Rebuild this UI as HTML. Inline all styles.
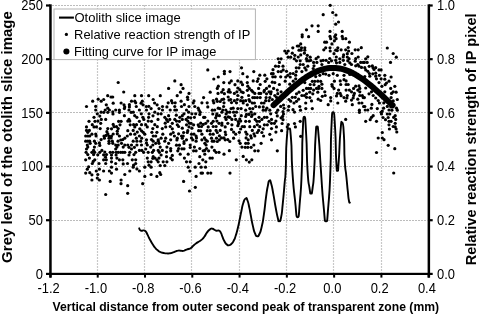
<!DOCTYPE html>
<html><head><meta charset="utf-8"><style>
html,body{margin:0;padding:0;background:#fff;width:480px;height:315px;overflow:hidden}
svg{display:block;filter:grayscale(1)}
</style></head><body>
<svg width="480" height="315" viewBox="0 0 480 315">
<rect width="480" height="315" fill="#fff"/>
<g stroke-width="1.2" stroke-dasharray="2 1"><line x1="97.50" y1="5" x2="97.50" y2="272.8" stroke="#c8c8c8"/><line x1="144.50" y1="5" x2="144.50" y2="272.8" stroke="#c8c8c8"/><line x1="191.50" y1="5" x2="191.50" y2="272.8" stroke="#c8c8c8"/><line x1="239.50" y1="5" x2="239.50" y2="272.8" stroke="#c8c8c8"/><line x1="286.50" y1="5" x2="286.50" y2="272.8" stroke="#c8c8c8"/><line x1="333.50" y1="5" x2="333.50" y2="272.8" stroke="#c8c8c8"/><line x1="381.50" y1="5" x2="381.50" y2="272.8" stroke="#c8c8c8"/><line x1="52" y1="220.50" x2="427.5" y2="220.50" stroke="#bcbcbc"/><line x1="52" y1="166.50" x2="427.5" y2="166.50" stroke="#bcbcbc"/><line x1="52" y1="112.50" x2="427.5" y2="112.50" stroke="#bcbcbc"/><line x1="52" y1="59.50" x2="427.5" y2="59.50" stroke="#bcbcbc"/><line x1="52" y1="5.50" x2="427.5" y2="5.50" stroke="#bcbcbc"/></g><g fill="#000"><circle cx="118.2" cy="82.5" r="1.6"/><circle cx="123.7" cy="92.0" r="1.6"/><circle cx="107.7" cy="95.7" r="1.6"/><circle cx="111.0" cy="97.0" r="1.6"/><circle cx="112.7" cy="97.0" r="1.6"/><circle cx="98.2" cy="99.2" r="1.6"/><circle cx="101.2" cy="101.2" r="1.6"/><circle cx="103.7" cy="99.5" r="1.6"/><circle cx="92.7" cy="101.2" r="1.6"/><circle cx="134.8" cy="95.7" r="1.6"/><circle cx="141.5" cy="95.7" r="1.6"/><circle cx="148.7" cy="95.7" r="1.6"/><circle cx="160.3" cy="95.7" r="1.6"/><circle cx="153.2" cy="99.5" r="1.6"/><circle cx="131.5" cy="101.2" r="1.6"/><circle cx="134.8" cy="101.2" r="1.6"/><circle cx="142.3" cy="101.2" r="1.6"/><circle cx="86.5" cy="106.5" r="1.6"/><circle cx="95.7" cy="106.3" r="1.6"/><circle cx="106.3" cy="104.8" r="1.6"/><circle cx="95.7" cy="110.0" r="1.6"/><circle cx="105.2" cy="110.0" r="1.6"/><circle cx="107.8" cy="108.2" r="1.6"/><circle cx="109.4" cy="110.0" r="1.6"/><circle cx="115.7" cy="110.0" r="1.6"/><circle cx="119.4" cy="110.0" r="1.6"/><circle cx="101.1" cy="112.2" r="1.6"/><circle cx="103.8" cy="112.3" r="1.6"/><circle cx="107.8" cy="112.3" r="1.6"/><circle cx="112.8" cy="111.9" r="1.6"/><circle cx="119.4" cy="112.3" r="1.6"/><circle cx="97.3" cy="113.8" r="1.6"/><circle cx="113.0" cy="114.0" r="1.6"/><circle cx="99.8" cy="116.1" r="1.6"/><circle cx="94.0" cy="117.3" r="1.6"/><circle cx="101.3" cy="119.4" r="1.6"/><circle cx="105.7" cy="119.4" r="1.6"/><circle cx="89.0" cy="121.3" r="1.6"/><circle cx="95.0" cy="121.3" r="1.6"/><circle cx="98.0" cy="121.1" r="1.6"/><circle cx="118.6" cy="121.3" r="1.6"/><circle cx="121.1" cy="121.3" r="1.6"/><circle cx="100.7" cy="123.3" r="1.6"/><circle cx="92.3" cy="124.7" r="1.6"/><circle cx="113.2" cy="124.4" r="1.6"/><circle cx="120.0" cy="124.8" r="1.6"/><circle cx="86.5" cy="126.9" r="1.6"/><circle cx="94.0" cy="126.9" r="1.6"/><circle cx="96.5" cy="126.9" r="1.6"/><circle cx="114.0" cy="126.7" r="1.6"/><circle cx="116.5" cy="126.7" r="1.6"/><circle cx="100.2" cy="128.6" r="1.6"/><circle cx="107.8" cy="128.6" r="1.6"/><circle cx="111.5" cy="128.8" r="1.6"/><circle cx="118.2" cy="128.6" r="1.6"/><circle cx="124.7" cy="106.9" r="1.6"/><circle cx="129.4" cy="104.7" r="1.6"/><circle cx="129.4" cy="106.9" r="1.6"/><circle cx="136.3" cy="106.5" r="1.6"/><circle cx="143.0" cy="104.8" r="1.6"/><circle cx="146.3" cy="106.5" r="1.6"/><circle cx="148.8" cy="106.3" r="1.6"/><circle cx="162.5" cy="106.5" r="1.6"/><circle cx="129.0" cy="110.0" r="1.6"/><circle cx="139.4" cy="110.0" r="1.6"/><circle cx="146.5" cy="110.0" r="1.6"/><circle cx="151.1" cy="108.6" r="1.6"/><circle cx="159.0" cy="108.6" r="1.6"/><circle cx="162.5" cy="110.0" r="1.6"/><circle cx="131.1" cy="112.3" r="1.6"/><circle cx="133.3" cy="112.2" r="1.6"/><circle cx="141.3" cy="113.8" r="1.6"/><circle cx="149.0" cy="113.8" r="1.6"/><circle cx="154.8" cy="112.2" r="1.6"/><circle cx="158.0" cy="113.8" r="1.6"/><circle cx="161.1" cy="113.8" r="1.6"/><circle cx="124.4" cy="115.7" r="1.6"/><circle cx="134.7" cy="115.7" r="1.6"/><circle cx="136.9" cy="117.3" r="1.6"/><circle cx="142.8" cy="117.3" r="1.6"/><circle cx="148.6" cy="117.3" r="1.6"/><circle cx="153.0" cy="115.8" r="1.6"/><circle cx="129.0" cy="119.4" r="1.6"/><circle cx="127.8" cy="121.1" r="1.6"/><circle cx="129.8" cy="121.1" r="1.6"/><circle cx="139.4" cy="121.3" r="1.6"/><circle cx="143.8" cy="119.4" r="1.6"/><circle cx="148.2" cy="121.1" r="1.6"/><circle cx="151.5" cy="121.3" r="1.6"/><circle cx="158.0" cy="119.4" r="1.6"/><circle cx="130.2" cy="124.8" r="1.6"/><circle cx="133.6" cy="124.7" r="1.6"/><circle cx="136.5" cy="124.7" r="1.6"/><circle cx="141.5" cy="124.7" r="1.6"/><circle cx="145.7" cy="124.7" r="1.6"/><circle cx="154.8" cy="124.7" r="1.6"/><circle cx="134.8" cy="126.9" r="1.6"/><circle cx="147.3" cy="126.9" r="1.6"/><circle cx="157.3" cy="126.7" r="1.6"/><circle cx="139.8" cy="128.8" r="1.6"/><circle cx="152.8" cy="128.6" r="1.6"/><circle cx="162.3" cy="128.6" r="1.6"/><circle cx="86.5" cy="130.4" r="1.6"/><circle cx="89.4" cy="130.4" r="1.6"/><circle cx="106.9" cy="131.7" r="1.6"/><circle cx="117.3" cy="131.2" r="1.6"/><circle cx="87.8" cy="132.3" r="1.6"/><circle cx="91.9" cy="134.2" r="1.6"/><circle cx="95.7" cy="134.0" r="1.6"/><circle cx="107.8" cy="133.8" r="1.6"/><circle cx="113.2" cy="134.0" r="1.6"/><circle cx="117.3" cy="133.8" r="1.6"/><circle cx="85.7" cy="136.0" r="1.6"/><circle cx="87.8" cy="136.0" r="1.6"/><circle cx="89.7" cy="136.0" r="1.6"/><circle cx="96.1" cy="136.0" r="1.6"/><circle cx="104.0" cy="136.0" r="1.6"/><circle cx="106.1" cy="135.4" r="1.6"/><circle cx="109.0" cy="136.0" r="1.6"/><circle cx="111.5" cy="136.0" r="1.6"/><circle cx="119.4" cy="136.0" r="1.6"/><circle cx="101.1" cy="139.6" r="1.6"/><circle cx="104.4" cy="138.2" r="1.6"/><circle cx="109.0" cy="138.2" r="1.6"/><circle cx="111.1" cy="137.9" r="1.6"/><circle cx="85.7" cy="141.2" r="1.6"/><circle cx="87.8" cy="141.2" r="1.6"/><circle cx="89.7" cy="141.2" r="1.6"/><circle cx="94.4" cy="141.2" r="1.6"/><circle cx="109.0" cy="141.2" r="1.6"/><circle cx="112.3" cy="141.2" r="1.6"/><circle cx="118.0" cy="141.2" r="1.6"/><circle cx="120.7" cy="140.0" r="1.6"/><circle cx="122.8" cy="139.6" r="1.6"/><circle cx="90.2" cy="143.3" r="1.6"/><circle cx="95.7" cy="143.3" r="1.6"/><circle cx="99.4" cy="142.9" r="1.6"/><circle cx="109.0" cy="143.3" r="1.6"/><circle cx="112.8" cy="143.3" r="1.6"/><circle cx="121.5" cy="143.3" r="1.6"/><circle cx="87.3" cy="145.0" r="1.6"/><circle cx="99.8" cy="145.4" r="1.6"/><circle cx="115.7" cy="145.0" r="1.6"/><circle cx="118.2" cy="145.0" r="1.6"/><circle cx="87.8" cy="147.1" r="1.6"/><circle cx="94.4" cy="147.1" r="1.6"/><circle cx="116.9" cy="147.1" r="1.6"/><circle cx="123.2" cy="147.1" r="1.6"/><circle cx="86.5" cy="149.0" r="1.6"/><circle cx="93.6" cy="150.4" r="1.6"/><circle cx="101.9" cy="150.4" r="1.6"/><circle cx="115.7" cy="149.0" r="1.6"/><circle cx="86.1" cy="152.3" r="1.6"/><circle cx="91.9" cy="152.3" r="1.6"/><circle cx="94.7" cy="152.3" r="1.6"/><circle cx="99.8" cy="152.3" r="1.6"/><circle cx="104.8" cy="152.1" r="1.6"/><circle cx="110.2" cy="152.3" r="1.6"/><circle cx="112.8" cy="152.3" r="1.6"/><circle cx="116.1" cy="152.3" r="1.6"/><circle cx="118.2" cy="152.3" r="1.6"/><circle cx="120.7" cy="152.3" r="1.6"/><circle cx="122.8" cy="152.3" r="1.6"/><circle cx="87.8" cy="154.6" r="1.6"/><circle cx="93.6" cy="154.6" r="1.6"/><circle cx="97.8" cy="154.8" r="1.6"/><circle cx="103.6" cy="154.8" r="1.6"/><circle cx="106.5" cy="154.6" r="1.6"/><circle cx="111.5" cy="155.0" r="1.6"/><circle cx="116.1" cy="155.0" r="1.6"/><circle cx="127.8" cy="130.7" r="1.6"/><circle cx="133.2" cy="130.4" r="1.6"/><circle cx="137.3" cy="132.1" r="1.6"/><circle cx="141.5" cy="130.8" r="1.6"/><circle cx="143.2" cy="132.3" r="1.6"/><circle cx="151.9" cy="132.3" r="1.6"/><circle cx="156.9" cy="132.3" r="1.6"/><circle cx="127.3" cy="136.0" r="1.6"/><circle cx="130.5" cy="134.2" r="1.6"/><circle cx="134.8" cy="134.2" r="1.6"/><circle cx="139.4" cy="136.0" r="1.6"/><circle cx="144.8" cy="134.2" r="1.6"/><circle cx="153.2" cy="136.0" r="1.6"/><circle cx="155.7" cy="136.0" r="1.6"/><circle cx="162.8" cy="134.2" r="1.6"/><circle cx="124.8" cy="138.2" r="1.6"/><circle cx="136.3" cy="138.2" r="1.6"/><circle cx="141.7" cy="138.2" r="1.6"/><circle cx="146.5" cy="139.8" r="1.6"/><circle cx="151.5" cy="139.6" r="1.6"/><circle cx="158.2" cy="139.8" r="1.6"/><circle cx="161.1" cy="138.2" r="1.6"/><circle cx="133.2" cy="141.2" r="1.6"/><circle cx="136.9" cy="141.2" r="1.6"/><circle cx="140.7" cy="141.2" r="1.6"/><circle cx="146.5" cy="142.9" r="1.6"/><circle cx="153.2" cy="141.2" r="1.6"/><circle cx="158.2" cy="141.2" r="1.6"/><circle cx="124.8" cy="145.0" r="1.6"/><circle cx="127.8" cy="145.0" r="1.6"/><circle cx="131.5" cy="145.0" r="1.6"/><circle cx="136.9" cy="145.0" r="1.6"/><circle cx="141.5" cy="145.0" r="1.6"/><circle cx="147.3" cy="145.0" r="1.6"/><circle cx="152.8" cy="145.0" r="1.6"/><circle cx="155.7" cy="143.3" r="1.6"/><circle cx="159.0" cy="143.3" r="1.6"/><circle cx="129.0" cy="147.3" r="1.6"/><circle cx="134.4" cy="147.3" r="1.6"/><circle cx="150.7" cy="147.1" r="1.6"/><circle cx="160.2" cy="147.1" r="1.6"/><circle cx="131.5" cy="149.0" r="1.6"/><circle cx="139.4" cy="150.4" r="1.6"/><circle cx="141.9" cy="150.4" r="1.6"/><circle cx="145.7" cy="149.0" r="1.6"/><circle cx="153.6" cy="150.4" r="1.6"/><circle cx="158.2" cy="150.4" r="1.6"/><circle cx="162.3" cy="150.4" r="1.6"/><circle cx="124.8" cy="152.3" r="1.6"/><circle cx="129.8" cy="152.3" r="1.6"/><circle cx="135.7" cy="152.3" r="1.6"/><circle cx="143.6" cy="152.3" r="1.6"/><circle cx="148.2" cy="152.3" r="1.6"/><circle cx="152.3" cy="152.3" r="1.6"/><circle cx="159.4" cy="152.3" r="1.6"/><circle cx="129.0" cy="155.0" r="1.6"/><circle cx="134.0" cy="154.6" r="1.6"/><circle cx="161.1" cy="155.0" r="1.6"/><circle cx="85.7" cy="159.8" r="1.6"/><circle cx="89.4" cy="158.1" r="1.6"/><circle cx="94.8" cy="159.8" r="1.6"/><circle cx="93.2" cy="161.4" r="1.6"/><circle cx="92.3" cy="163.5" r="1.6"/><circle cx="99.0" cy="163.5" r="1.6"/><circle cx="103.6" cy="159.8" r="1.6"/><circle cx="106.3" cy="159.8" r="1.6"/><circle cx="105.5" cy="157.2" r="1.6"/><circle cx="105.7" cy="163.5" r="1.6"/><circle cx="111.5" cy="158.1" r="1.6"/><circle cx="111.5" cy="161.8" r="1.6"/><circle cx="115.7" cy="163.5" r="1.6"/><circle cx="116.9" cy="158.1" r="1.6"/><circle cx="119.4" cy="159.8" r="1.6"/><circle cx="122.8" cy="159.8" r="1.6"/><circle cx="123.2" cy="163.9" r="1.6"/><circle cx="88.6" cy="166.8" r="1.6"/><circle cx="87.3" cy="169.2" r="1.6"/><circle cx="99.4" cy="169.2" r="1.6"/><circle cx="96.3" cy="171.0" r="1.6"/><circle cx="103.6" cy="171.0" r="1.6"/><circle cx="109.4" cy="171.0" r="1.6"/><circle cx="111.5" cy="167.2" r="1.6"/><circle cx="116.5" cy="169.2" r="1.6"/><circle cx="85.7" cy="173.1" r="1.6"/><circle cx="89.8" cy="172.7" r="1.6"/><circle cx="91.9" cy="174.8" r="1.6"/><circle cx="97.8" cy="174.5" r="1.6"/><circle cx="111.5" cy="173.1" r="1.6"/><circle cx="97.3" cy="178.1" r="1.6"/><circle cx="99.4" cy="180.0" r="1.6"/><circle cx="91.9" cy="180.0" r="1.6"/><circle cx="121.1" cy="180.0" r="1.6"/><circle cx="110.2" cy="181.4" r="1.6"/><circle cx="153.2" cy="156.7" r="1.6"/><circle cx="132.3" cy="159.8" r="1.6"/><circle cx="135.7" cy="159.8" r="1.6"/><circle cx="127.5" cy="163.5" r="1.6"/><circle cx="135.7" cy="163.5" r="1.6"/><circle cx="133.6" cy="165.2" r="1.6"/><circle cx="133.2" cy="167.2" r="1.6"/><circle cx="136.9" cy="168.9" r="1.6"/><circle cx="139.4" cy="171.0" r="1.6"/><circle cx="129.8" cy="171.0" r="1.6"/><circle cx="124.8" cy="174.5" r="1.6"/><circle cx="147.3" cy="158.1" r="1.6"/><circle cx="152.8" cy="158.3" r="1.6"/><circle cx="155.0" cy="158.1" r="1.6"/><circle cx="159.0" cy="158.1" r="1.6"/><circle cx="156.9" cy="159.8" r="1.6"/><circle cx="158.2" cy="161.8" r="1.6"/><circle cx="163.2" cy="161.8" r="1.6"/><circle cx="148.2" cy="161.8" r="1.6"/><circle cx="151.1" cy="161.8" r="1.6"/><circle cx="149.0" cy="165.2" r="1.6"/><circle cx="151.1" cy="167.2" r="1.6"/><circle cx="160.2" cy="165.6" r="1.6"/><circle cx="144.8" cy="167.2" r="1.6"/><circle cx="151.1" cy="174.5" r="1.6"/><circle cx="159.8" cy="172.7" r="1.6"/><circle cx="160.7" cy="174.5" r="1.6"/><circle cx="156.9" cy="176.4" r="1.6"/><circle cx="144.8" cy="176.4" r="1.6"/><circle cx="121.0" cy="183.7" r="1.6"/><circle cx="127.7" cy="185.7" r="1.6"/><circle cx="142.7" cy="183.7" r="1.6"/><circle cx="105.7" cy="194.5" r="1.6"/><circle cx="127.7" cy="193.3" r="1.6"/><circle cx="174.8" cy="80.9" r="1.6"/><circle cx="181.1" cy="84.7" r="1.6"/><circle cx="168.6" cy="88.4" r="1.6"/><circle cx="183.0" cy="88.4" r="1.6"/><circle cx="180.5" cy="92.2" r="1.6"/><circle cx="189.0" cy="93.4" r="1.6"/><circle cx="177.2" cy="95.7" r="1.6"/><circle cx="187.5" cy="97.2" r="1.6"/><circle cx="187.8" cy="99.5" r="1.6"/><circle cx="171.5" cy="100.7" r="1.6"/><circle cx="181.1" cy="101.2" r="1.6"/><circle cx="194.0" cy="100.9" r="1.6"/><circle cx="203.6" cy="97.6" r="1.6"/><circle cx="168.2" cy="102.8" r="1.6"/><circle cx="172.3" cy="102.8" r="1.6"/><circle cx="175.2" cy="102.8" r="1.6"/><circle cx="193.2" cy="103.0" r="1.6"/><circle cx="201.9" cy="102.8" r="1.6"/><circle cx="207.8" cy="69.9" r="1.6"/><circle cx="224.4" cy="71.3" r="1.6"/><circle cx="224.4" cy="73.7" r="1.6"/><circle cx="230.0" cy="71.6" r="1.6"/><circle cx="241.5" cy="67.8" r="1.6"/><circle cx="242.8" cy="73.7" r="1.6"/><circle cx="218.3" cy="77.0" r="1.6"/><circle cx="213.8" cy="79.0" r="1.6"/><circle cx="223.8" cy="82.6" r="1.6"/><circle cx="229.4" cy="82.8" r="1.6"/><circle cx="231.3" cy="80.9" r="1.6"/><circle cx="237.8" cy="80.9" r="1.6"/><circle cx="241.1" cy="82.2" r="1.6"/><circle cx="242.5" cy="84.7" r="1.6"/><circle cx="235.0" cy="84.7" r="1.6"/><circle cx="218.3" cy="86.2" r="1.6"/><circle cx="217.3" cy="88.4" r="1.6"/><circle cx="210.2" cy="92.2" r="1.6"/><circle cx="223.2" cy="89.7" r="1.6"/><circle cx="221.7" cy="92.2" r="1.6"/><circle cx="218.0" cy="93.4" r="1.6"/><circle cx="224.4" cy="93.7" r="1.6"/><circle cx="229.0" cy="89.7" r="1.6"/><circle cx="228.2" cy="91.8" r="1.6"/><circle cx="230.2" cy="92.2" r="1.6"/><circle cx="237.8" cy="88.0" r="1.6"/><circle cx="239.8" cy="89.7" r="1.6"/><circle cx="236.9" cy="91.8" r="1.6"/><circle cx="234.4" cy="93.4" r="1.6"/><circle cx="241.5" cy="91.8" r="1.6"/><circle cx="243.2" cy="92.6" r="1.6"/><circle cx="237.8" cy="95.5" r="1.6"/><circle cx="228.2" cy="97.0" r="1.6"/><circle cx="223.6" cy="99.2" r="1.6"/><circle cx="221.9" cy="99.5" r="1.6"/><circle cx="216.5" cy="99.2" r="1.6"/><circle cx="213.2" cy="100.7" r="1.6"/><circle cx="217.3" cy="101.3" r="1.6"/><circle cx="220.2" cy="101.5" r="1.6"/><circle cx="230.7" cy="99.5" r="1.6"/><circle cx="229.0" cy="100.1" r="1.6"/><circle cx="234.4" cy="100.7" r="1.6"/><circle cx="237.3" cy="99.5" r="1.6"/><circle cx="241.9" cy="97.3" r="1.6"/><circle cx="240.7" cy="100.7" r="1.6"/><circle cx="243.2" cy="100.9" r="1.6"/><circle cx="207.2" cy="102.8" r="1.6"/><circle cx="213.8" cy="102.8" r="1.6"/><circle cx="224.0" cy="102.8" r="1.6"/><circle cx="231.5" cy="102.6" r="1.6"/><circle cx="236.5" cy="102.8" r="1.6"/><circle cx="243.2" cy="103.0" r="1.6"/><circle cx="184.4" cy="104.7" r="1.6"/><circle cx="166.9" cy="106.9" r="1.6"/><circle cx="174.8" cy="106.5" r="1.6"/><circle cx="181.5" cy="106.5" r="1.6"/><circle cx="189.0" cy="106.5" r="1.6"/><circle cx="194.8" cy="106.5" r="1.6"/><circle cx="170.2" cy="110.0" r="1.6"/><circle cx="174.8" cy="110.0" r="1.6"/><circle cx="176.5" cy="110.0" r="1.6"/><circle cx="186.5" cy="110.0" r="1.6"/><circle cx="188.6" cy="112.2" r="1.6"/><circle cx="198.2" cy="108.2" r="1.6"/><circle cx="199.0" cy="110.2" r="1.6"/><circle cx="200.2" cy="112.2" r="1.6"/><circle cx="168.6" cy="115.7" r="1.6"/><circle cx="176.3" cy="115.2" r="1.6"/><circle cx="184.0" cy="113.8" r="1.6"/><circle cx="191.9" cy="113.8" r="1.6"/><circle cx="195.7" cy="113.8" r="1.6"/><circle cx="199.8" cy="114.4" r="1.6"/><circle cx="164.8" cy="117.3" r="1.6"/><circle cx="182.3" cy="115.7" r="1.6"/><circle cx="179.8" cy="117.3" r="1.6"/><circle cx="188.2" cy="117.3" r="1.6"/><circle cx="190.7" cy="117.8" r="1.6"/><circle cx="194.4" cy="117.3" r="1.6"/><circle cx="203.6" cy="117.3" r="1.6"/><circle cx="166.5" cy="119.4" r="1.6"/><circle cx="169.8" cy="119.4" r="1.6"/><circle cx="174.8" cy="119.4" r="1.6"/><circle cx="176.5" cy="121.1" r="1.6"/><circle cx="179.4" cy="121.3" r="1.6"/><circle cx="182.3" cy="119.4" r="1.6"/><circle cx="186.1" cy="119.4" r="1.6"/><circle cx="187.8" cy="121.1" r="1.6"/><circle cx="165.2" cy="123.2" r="1.6"/><circle cx="167.8" cy="121.5" r="1.6"/><circle cx="172.3" cy="123.3" r="1.6"/><circle cx="189.4" cy="123.2" r="1.6"/><circle cx="191.1" cy="123.3" r="1.6"/><circle cx="193.6" cy="124.8" r="1.6"/><circle cx="186.5" cy="124.8" r="1.6"/><circle cx="177.3" cy="124.8" r="1.6"/><circle cx="200.7" cy="123.2" r="1.6"/><circle cx="198.2" cy="124.8" r="1.6"/><circle cx="203.2" cy="124.4" r="1.6"/><circle cx="165.7" cy="126.9" r="1.6"/><circle cx="170.2" cy="126.5" r="1.6"/><circle cx="172.3" cy="128.8" r="1.6"/><circle cx="178.6" cy="126.5" r="1.6"/><circle cx="182.3" cy="128.2" r="1.6"/><circle cx="189.0" cy="126.9" r="1.6"/><circle cx="191.9" cy="128.2" r="1.6"/><circle cx="199.0" cy="126.5" r="1.6"/><circle cx="201.5" cy="126.5" r="1.6"/><circle cx="207.8" cy="106.9" r="1.6"/><circle cx="218.2" cy="108.2" r="1.6"/><circle cx="219.8" cy="108.6" r="1.6"/><circle cx="223.6" cy="106.5" r="1.6"/><circle cx="231.1" cy="108.6" r="1.6"/><circle cx="233.2" cy="108.2" r="1.6"/><circle cx="237.8" cy="108.6" r="1.6"/><circle cx="241.1" cy="108.6" r="1.6"/><circle cx="212.3" cy="110.2" r="1.6"/><circle cx="214.7" cy="110.0" r="1.6"/><circle cx="222.8" cy="110.0" r="1.6"/><circle cx="225.8" cy="110.0" r="1.6"/><circle cx="221.9" cy="112.2" r="1.6"/><circle cx="227.3" cy="112.2" r="1.6"/><circle cx="229.8" cy="112.2" r="1.6"/><circle cx="233.6" cy="112.2" r="1.6"/><circle cx="236.5" cy="112.2" r="1.6"/><circle cx="212.8" cy="114.0" r="1.6"/><circle cx="216.9" cy="113.8" r="1.6"/><circle cx="226.1" cy="114.0" r="1.6"/><circle cx="204.8" cy="117.3" r="1.6"/><circle cx="216.5" cy="115.7" r="1.6"/><circle cx="219.4" cy="115.7" r="1.6"/><circle cx="234.8" cy="115.7" r="1.6"/><circle cx="241.3" cy="115.7" r="1.6"/><circle cx="215.7" cy="117.8" r="1.6"/><circle cx="225.2" cy="117.3" r="1.6"/><circle cx="228.2" cy="116.9" r="1.6"/><circle cx="229.8" cy="117.3" r="1.6"/><circle cx="226.1" cy="119.4" r="1.6"/><circle cx="231.9" cy="119.4" r="1.6"/><circle cx="235.7" cy="119.4" r="1.6"/><circle cx="239.8" cy="119.0" r="1.6"/><circle cx="207.8" cy="121.1" r="1.6"/><circle cx="213.2" cy="121.3" r="1.6"/><circle cx="216.9" cy="121.1" r="1.6"/><circle cx="238.2" cy="121.5" r="1.6"/><circle cx="240.7" cy="121.1" r="1.6"/><circle cx="211.5" cy="123.3" r="1.6"/><circle cx="219.0" cy="123.3" r="1.6"/><circle cx="221.9" cy="123.0" r="1.6"/><circle cx="227.8" cy="123.3" r="1.6"/><circle cx="231.9" cy="124.8" r="1.6"/><circle cx="238.6" cy="123.6" r="1.6"/><circle cx="205.7" cy="123.3" r="1.6"/><circle cx="221.9" cy="125.2" r="1.6"/><circle cx="213.2" cy="126.5" r="1.6"/><circle cx="216.1" cy="126.5" r="1.6"/><circle cx="225.2" cy="126.9" r="1.6"/><circle cx="237.8" cy="125.7" r="1.6"/><circle cx="242.3" cy="126.5" r="1.6"/><circle cx="208.2" cy="126.9" r="1.6"/><circle cx="231.5" cy="129.4" r="1.6"/><circle cx="240.7" cy="129.0" r="1.6"/><circle cx="187.8" cy="130.7" r="1.6"/><circle cx="198.6" cy="130.7" r="1.6"/><circle cx="200.7" cy="130.8" r="1.6"/><circle cx="173.2" cy="132.5" r="1.6"/><circle cx="170.7" cy="134.2" r="1.6"/><circle cx="178.6" cy="133.8" r="1.6"/><circle cx="183.6" cy="132.5" r="1.6"/><circle cx="187.3" cy="132.5" r="1.6"/><circle cx="174.4" cy="136.0" r="1.6"/><circle cx="181.5" cy="136.0" r="1.6"/><circle cx="183.2" cy="136.0" r="1.6"/><circle cx="177.3" cy="138.2" r="1.6"/><circle cx="182.3" cy="138.2" r="1.6"/><circle cx="165.7" cy="138.2" r="1.6"/><circle cx="191.5" cy="134.2" r="1.6"/><circle cx="194.0" cy="134.2" r="1.6"/><circle cx="191.5" cy="137.9" r="1.6"/><circle cx="196.1" cy="136.0" r="1.6"/><circle cx="196.5" cy="137.9" r="1.6"/><circle cx="201.9" cy="134.2" r="1.6"/><circle cx="170.7" cy="139.8" r="1.6"/><circle cx="176.9" cy="140.0" r="1.6"/><circle cx="186.5" cy="139.8" r="1.6"/><circle cx="192.8" cy="139.8" r="1.6"/><circle cx="196.1" cy="141.2" r="1.6"/><circle cx="164.8" cy="141.2" r="1.6"/><circle cx="184.0" cy="141.7" r="1.6"/><circle cx="168.6" cy="143.3" r="1.6"/><circle cx="184.0" cy="143.5" r="1.6"/><circle cx="201.9" cy="139.8" r="1.6"/><circle cx="176.5" cy="145.2" r="1.6"/><circle cx="179.4" cy="145.2" r="1.6"/><circle cx="190.2" cy="145.0" r="1.6"/><circle cx="166.9" cy="147.1" r="1.6"/><circle cx="170.7" cy="148.5" r="1.6"/><circle cx="178.6" cy="148.5" r="1.6"/><circle cx="181.9" cy="148.8" r="1.6"/><circle cx="184.0" cy="148.8" r="1.6"/><circle cx="190.2" cy="147.5" r="1.6"/><circle cx="194.4" cy="147.1" r="1.6"/><circle cx="199.8" cy="148.5" r="1.6"/><circle cx="166.5" cy="152.1" r="1.6"/><circle cx="170.7" cy="150.8" r="1.6"/><circle cx="177.8" cy="150.8" r="1.6"/><circle cx="193.6" cy="150.8" r="1.6"/><circle cx="196.1" cy="150.8" r="1.6"/><circle cx="203.2" cy="150.8" r="1.6"/><circle cx="180.2" cy="154.2" r="1.6"/><circle cx="188.2" cy="154.2" r="1.6"/><circle cx="172.3" cy="155.4" r="1.6"/><circle cx="207.3" cy="130.7" r="1.6"/><circle cx="210.2" cy="130.7" r="1.6"/><circle cx="216.1" cy="130.4" r="1.6"/><circle cx="220.2" cy="130.4" r="1.6"/><circle cx="217.3" cy="132.5" r="1.6"/><circle cx="225.2" cy="132.1" r="1.6"/><circle cx="225.7" cy="134.6" r="1.6"/><circle cx="233.6" cy="132.1" r="1.6"/><circle cx="235.7" cy="134.2" r="1.6"/><circle cx="239.4" cy="132.3" r="1.6"/><circle cx="210.2" cy="134.2" r="1.6"/><circle cx="213.2" cy="134.2" r="1.6"/><circle cx="219.4" cy="135.8" r="1.6"/><circle cx="211.5" cy="138.2" r="1.6"/><circle cx="216.5" cy="138.2" r="1.6"/><circle cx="221.5" cy="137.9" r="1.6"/><circle cx="224.0" cy="137.9" r="1.6"/><circle cx="204.4" cy="137.9" r="1.6"/><circle cx="205.7" cy="139.8" r="1.6"/><circle cx="207.3" cy="141.2" r="1.6"/><circle cx="212.3" cy="141.2" r="1.6"/><circle cx="214.0" cy="141.2" r="1.6"/><circle cx="217.3" cy="141.5" r="1.6"/><circle cx="219.4" cy="139.8" r="1.6"/><circle cx="225.2" cy="139.8" r="1.6"/><circle cx="227.8" cy="139.6" r="1.6"/><circle cx="229.8" cy="141.5" r="1.6"/><circle cx="233.6" cy="138.2" r="1.6"/><circle cx="239.0" cy="140.8" r="1.6"/><circle cx="240.2" cy="143.3" r="1.6"/><circle cx="204.8" cy="143.3" r="1.6"/><circle cx="206.1" cy="145.0" r="1.6"/><circle cx="211.9" cy="147.1" r="1.6"/><circle cx="206.5" cy="148.5" r="1.6"/><circle cx="204.8" cy="150.4" r="1.6"/><circle cx="208.6" cy="150.8" r="1.6"/><circle cx="214.4" cy="150.4" r="1.6"/><circle cx="216.1" cy="152.3" r="1.6"/><circle cx="219.0" cy="152.3" r="1.6"/><circle cx="229.4" cy="150.7" r="1.6"/><circle cx="241.9" cy="147.1" r="1.6"/><circle cx="224.0" cy="154.2" r="1.6"/><circle cx="204.8" cy="154.2" r="1.6"/><circle cx="166.5" cy="156.7" r="1.6"/><circle cx="199.8" cy="156.7" r="1.6"/><circle cx="170.7" cy="158.1" r="1.6"/><circle cx="172.3" cy="159.8" r="1.6"/><circle cx="166.9" cy="161.8" r="1.6"/><circle cx="164.8" cy="165.6" r="1.6"/><circle cx="184.4" cy="158.1" r="1.6"/><circle cx="186.5" cy="161.8" r="1.6"/><circle cx="190.2" cy="161.8" r="1.6"/><circle cx="188.2" cy="167.2" r="1.6"/><circle cx="189.8" cy="171.0" r="1.6"/><circle cx="195.2" cy="167.2" r="1.6"/><circle cx="199.0" cy="163.5" r="1.6"/><circle cx="201.1" cy="167.2" r="1.6"/><circle cx="202.8" cy="159.8" r="1.6"/><circle cx="201.1" cy="173.1" r="1.6"/><circle cx="202.5" cy="173.1" r="1.6"/><circle cx="196.1" cy="176.4" r="1.6"/><circle cx="183.6" cy="181.4" r="1.6"/><circle cx="210.0" cy="158.1" r="1.6"/><circle cx="212.3" cy="158.1" r="1.6"/><circle cx="205.8" cy="161.8" r="1.6"/><circle cx="205.5" cy="167.2" r="1.6"/><circle cx="236.3" cy="159.8" r="1.6"/><circle cx="207.8" cy="173.1" r="1.6"/><circle cx="210.8" cy="173.1" r="1.6"/><circle cx="230.0" cy="173.1" r="1.6"/><circle cx="243.2" cy="156.4" r="1.6"/><circle cx="195.3" cy="187.3" r="1.6"/><circle cx="189.5" cy="191.0" r="1.6"/><circle cx="323.2" cy="14.7" r="1.6"/><circle cx="312.0" cy="25.8" r="1.6"/><circle cx="318.2" cy="25.8" r="1.6"/><circle cx="306.5" cy="29.8" r="1.6"/><circle cx="318.2" cy="31.4" r="1.6"/><circle cx="302.2" cy="34.8" r="1.6"/><circle cx="302.2" cy="36.8" r="1.6"/><circle cx="308.6" cy="36.7" r="1.6"/><circle cx="300.7" cy="43.9" r="1.6"/><circle cx="297.3" cy="46.0" r="1.6"/><circle cx="298.8" cy="46.0" r="1.6"/><circle cx="292.8" cy="47.8" r="1.6"/><circle cx="301.5" cy="47.8" r="1.6"/><circle cx="304.8" cy="47.8" r="1.6"/><circle cx="299.0" cy="50.2" r="1.6"/><circle cx="301.1" cy="50.2" r="1.6"/><circle cx="304.8" cy="50.2" r="1.6"/><circle cx="284.8" cy="51.0" r="1.6"/><circle cx="288.2" cy="51.0" r="1.6"/><circle cx="278.2" cy="58.8" r="1.6"/><circle cx="281.1" cy="58.8" r="1.6"/><circle cx="279.4" cy="62.4" r="1.6"/><circle cx="275.5" cy="66.2" r="1.6"/><circle cx="278.6" cy="66.3" r="1.6"/><circle cx="283.0" cy="66.2" r="1.6"/><circle cx="273.0" cy="69.7" r="1.6"/><circle cx="253.8" cy="71.6" r="1.6"/><circle cx="278.2" cy="71.6" r="1.6"/><circle cx="281.1" cy="71.6" r="1.6"/><circle cx="283.2" cy="69.9" r="1.6"/><circle cx="271.5" cy="73.7" r="1.6"/><circle cx="273.2" cy="73.7" r="1.6"/><circle cx="259.8" cy="75.2" r="1.6"/><circle cx="264.8" cy="75.2" r="1.6"/><circle cx="247.3" cy="76.8" r="1.6"/><circle cx="272.8" cy="76.8" r="1.6"/><circle cx="275.2" cy="76.8" r="1.6"/><circle cx="280.7" cy="76.8" r="1.6"/><circle cx="286.5" cy="53.2" r="1.6"/><circle cx="292.3" cy="53.2" r="1.6"/><circle cx="304.4" cy="53.2" r="1.6"/><circle cx="294.8" cy="55.3" r="1.6"/><circle cx="300.7" cy="54.9" r="1.6"/><circle cx="307.3" cy="55.3" r="1.6"/><circle cx="288.2" cy="57.2" r="1.6"/><circle cx="290.7" cy="57.2" r="1.6"/><circle cx="298.2" cy="57.0" r="1.6"/><circle cx="310.2" cy="57.2" r="1.6"/><circle cx="318.2" cy="57.0" r="1.6"/><circle cx="316.1" cy="58.7" r="1.6"/><circle cx="294.4" cy="58.8" r="1.6"/><circle cx="306.5" cy="58.7" r="1.6"/><circle cx="300.2" cy="60.8" r="1.6"/><circle cx="296.5" cy="60.8" r="1.6"/><circle cx="306.9" cy="60.8" r="1.6"/><circle cx="309.0" cy="60.8" r="1.6"/><circle cx="310.7" cy="60.3" r="1.6"/><circle cx="313.6" cy="62.4" r="1.6"/><circle cx="316.9" cy="62.4" r="1.6"/><circle cx="321.1" cy="60.8" r="1.6"/><circle cx="323.2" cy="60.3" r="1.6"/><circle cx="303.2" cy="64.5" r="1.6"/><circle cx="300.2" cy="64.5" r="1.6"/><circle cx="307.8" cy="66.2" r="1.6"/><circle cx="314.0" cy="65.8" r="1.6"/><circle cx="313.2" cy="68.5" r="1.6"/><circle cx="321.9" cy="64.5" r="1.6"/><circle cx="296.3" cy="67.8" r="1.6"/><circle cx="299.0" cy="67.8" r="1.6"/><circle cx="304.8" cy="67.8" r="1.6"/><circle cx="306.1" cy="69.9" r="1.6"/><circle cx="301.9" cy="71.6" r="1.6"/><circle cx="296.3" cy="71.6" r="1.6"/><circle cx="286.5" cy="71.3" r="1.6"/><circle cx="290.2" cy="73.5" r="1.6"/><circle cx="293.2" cy="73.5" r="1.6"/><circle cx="287.8" cy="75.3" r="1.6"/><circle cx="295.7" cy="75.2" r="1.6"/><circle cx="290.2" cy="77.0" r="1.6"/><circle cx="285.7" cy="77.0" r="1.6"/><circle cx="319.8" cy="75.3" r="1.6"/><circle cx="315.7" cy="76.6" r="1.6"/><circle cx="323.2" cy="73.7" r="1.6"/><circle cx="258.2" cy="78.8" r="1.6"/><circle cx="266.9" cy="78.8" r="1.6"/><circle cx="253.2" cy="80.9" r="1.6"/><circle cx="257.3" cy="81.3" r="1.6"/><circle cx="265.2" cy="81.3" r="1.6"/><circle cx="247.3" cy="82.6" r="1.6"/><circle cx="260.2" cy="84.5" r="1.6"/><circle cx="272.3" cy="82.2" r="1.6"/><circle cx="274.8" cy="82.6" r="1.6"/><circle cx="279.4" cy="84.5" r="1.6"/><circle cx="247.8" cy="86.2" r="1.6"/><circle cx="269.4" cy="86.2" r="1.6"/><circle cx="249.4" cy="88.4" r="1.6"/><circle cx="258.6" cy="88.4" r="1.6"/><circle cx="266.5" cy="88.4" r="1.6"/><circle cx="273.6" cy="88.4" r="1.6"/><circle cx="247.3" cy="90.3" r="1.6"/><circle cx="251.5" cy="90.3" r="1.6"/><circle cx="264.4" cy="90.3" r="1.6"/><circle cx="277.3" cy="90.1" r="1.6"/><circle cx="252.8" cy="91.8" r="1.6"/><circle cx="254.8" cy="93.4" r="1.6"/><circle cx="259.0" cy="93.4" r="1.6"/><circle cx="260.7" cy="93.4" r="1.6"/><circle cx="264.0" cy="91.8" r="1.6"/><circle cx="269.0" cy="91.8" r="1.6"/><circle cx="271.1" cy="91.8" r="1.6"/><circle cx="266.5" cy="93.8" r="1.6"/><circle cx="270.7" cy="93.8" r="1.6"/><circle cx="277.8" cy="93.7" r="1.6"/><circle cx="281.1" cy="91.8" r="1.6"/><circle cx="248.6" cy="95.5" r="1.6"/><circle cx="274.8" cy="95.5" r="1.6"/><circle cx="252.8" cy="97.6" r="1.6"/><circle cx="254.8" cy="97.6" r="1.6"/><circle cx="257.3" cy="97.6" r="1.6"/><circle cx="260.2" cy="97.6" r="1.6"/><circle cx="266.1" cy="97.6" r="1.6"/><circle cx="269.8" cy="97.6" r="1.6"/><circle cx="276.5" cy="97.3" r="1.6"/><circle cx="245.7" cy="100.7" r="1.6"/><circle cx="249.0" cy="99.5" r="1.6"/><circle cx="249.8" cy="101.3" r="1.6"/><circle cx="265.7" cy="100.7" r="1.6"/><circle cx="269.0" cy="100.7" r="1.6"/><circle cx="272.3" cy="99.5" r="1.6"/><circle cx="252.3" cy="103.0" r="1.6"/><circle cx="254.4" cy="103.0" r="1.6"/><circle cx="261.5" cy="103.0" r="1.6"/><circle cx="264.0" cy="103.0" r="1.6"/><circle cx="285.2" cy="81.2" r="1.6"/><circle cx="293.2" cy="81.2" r="1.6"/><circle cx="289.8" cy="84.2" r="1.6"/><circle cx="295.7" cy="78.8" r="1.6"/><circle cx="304.8" cy="82.6" r="1.6"/><circle cx="310.2" cy="84.5" r="1.6"/><circle cx="314.0" cy="84.7" r="1.6"/><circle cx="312.3" cy="81.3" r="1.6"/><circle cx="314.8" cy="81.3" r="1.6"/><circle cx="317.8" cy="81.2" r="1.6"/><circle cx="320.7" cy="81.3" r="1.6"/><circle cx="321.9" cy="84.2" r="1.6"/><circle cx="319.0" cy="86.3" r="1.6"/><circle cx="316.5" cy="88.4" r="1.6"/><circle cx="303.2" cy="90.3" r="1.6"/><circle cx="306.5" cy="88.4" r="1.6"/><circle cx="308.6" cy="88.4" r="1.6"/><circle cx="310.7" cy="88.4" r="1.6"/><circle cx="313.6" cy="90.1" r="1.6"/><circle cx="318.6" cy="88.4" r="1.6"/><circle cx="321.9" cy="88.4" r="1.6"/><circle cx="299.0" cy="92.2" r="1.6"/><circle cx="296.5" cy="93.8" r="1.6"/><circle cx="306.5" cy="93.8" r="1.6"/><circle cx="309.8" cy="92.2" r="1.6"/><circle cx="312.8" cy="93.8" r="1.6"/><circle cx="317.8" cy="92.2" r="1.6"/><circle cx="301.9" cy="95.5" r="1.6"/><circle cx="304.4" cy="95.5" r="1.6"/><circle cx="292.3" cy="97.3" r="1.6"/><circle cx="295.2" cy="97.3" r="1.6"/><circle cx="306.5" cy="97.3" r="1.6"/><circle cx="309.8" cy="97.6" r="1.6"/><circle cx="298.6" cy="99.2" r="1.6"/><circle cx="289.0" cy="99.5" r="1.6"/><circle cx="290.7" cy="101.2" r="1.6"/><circle cx="296.5" cy="101.3" r="1.6"/><circle cx="311.5" cy="100.9" r="1.6"/><circle cx="318.2" cy="99.2" r="1.6"/><circle cx="320.7" cy="100.5" r="1.6"/><circle cx="322.3" cy="96.3" r="1.6"/><circle cx="294.0" cy="103.0" r="1.6"/><circle cx="305.7" cy="103.0" r="1.6"/><circle cx="247.3" cy="104.8" r="1.6"/><circle cx="255.7" cy="106.5" r="1.6"/><circle cx="259.4" cy="106.9" r="1.6"/><circle cx="263.2" cy="106.9" r="1.6"/><circle cx="266.9" cy="108.2" r="1.6"/><circle cx="249.8" cy="108.6" r="1.6"/><circle cx="252.8" cy="108.6" r="1.6"/><circle cx="245.7" cy="110.2" r="1.6"/><circle cx="263.2" cy="110.2" r="1.6"/><circle cx="265.7" cy="110.2" r="1.6"/><circle cx="269.8" cy="110.2" r="1.6"/><circle cx="251.1" cy="112.2" r="1.6"/><circle cx="270.7" cy="113.8" r="1.6"/><circle cx="246.5" cy="114.4" r="1.6"/><circle cx="249.0" cy="114.4" r="1.6"/><circle cx="252.3" cy="114.8" r="1.6"/><circle cx="254.8" cy="113.8" r="1.6"/><circle cx="245.7" cy="116.5" r="1.6"/><circle cx="251.5" cy="116.5" r="1.6"/><circle cx="259.0" cy="117.3" r="1.6"/><circle cx="264.4" cy="117.3" r="1.6"/><circle cx="266.9" cy="117.3" r="1.6"/><circle cx="261.9" cy="119.4" r="1.6"/><circle cx="255.2" cy="119.4" r="1.6"/><circle cx="271.5" cy="119.4" r="1.6"/><circle cx="245.7" cy="121.3" r="1.6"/><circle cx="249.4" cy="121.3" r="1.6"/><circle cx="256.9" cy="121.3" r="1.6"/><circle cx="259.4" cy="121.3" r="1.6"/><circle cx="269.0" cy="121.3" r="1.6"/><circle cx="271.5" cy="123.3" r="1.6"/><circle cx="274.4" cy="123.3" r="1.6"/><circle cx="257.3" cy="124.8" r="1.6"/><circle cx="264.4" cy="124.8" r="1.6"/><circle cx="267.3" cy="124.8" r="1.6"/><circle cx="244.4" cy="126.7" r="1.6"/><circle cx="249.8" cy="126.7" r="1.6"/><circle cx="254.4" cy="126.7" r="1.6"/><circle cx="259.8" cy="126.7" r="1.6"/><circle cx="263.2" cy="128.8" r="1.6"/><circle cx="271.5" cy="128.6" r="1.6"/><circle cx="299.8" cy="106.5" r="1.6"/><circle cx="300.5" cy="110.2" r="1.6"/><circle cx="305.8" cy="108.6" r="1.6"/><circle cx="312.3" cy="108.6" r="1.6"/><circle cx="300.2" cy="121.3" r="1.6"/><circle cx="252.3" cy="130.4" r="1.6"/><circle cx="258.6" cy="130.4" r="1.6"/><circle cx="245.7" cy="132.1" r="1.6"/><circle cx="246.9" cy="134.2" r="1.6"/><circle cx="254.0" cy="133.8" r="1.6"/><circle cx="257.3" cy="132.5" r="1.6"/><circle cx="261.9" cy="132.5" r="1.6"/><circle cx="250.7" cy="135.8" r="1.6"/><circle cx="254.8" cy="136.0" r="1.6"/><circle cx="263.6" cy="136.0" r="1.6"/><circle cx="269.8" cy="134.3" r="1.6"/><circle cx="246.1" cy="137.9" r="1.6"/><circle cx="248.2" cy="139.8" r="1.6"/><circle cx="251.3" cy="137.9" r="1.6"/><circle cx="271.5" cy="139.8" r="1.6"/><circle cx="245.7" cy="143.3" r="1.6"/><circle cx="248.2" cy="143.3" r="1.6"/><circle cx="261.1" cy="143.3" r="1.6"/><circle cx="253.8" cy="145.0" r="1.6"/><circle cx="245.2" cy="147.3" r="1.6"/><circle cx="247.8" cy="147.3" r="1.6"/><circle cx="251.1" cy="147.3" r="1.6"/><circle cx="254.8" cy="150.8" r="1.6"/><circle cx="258.2" cy="150.8" r="1.6"/><circle cx="277.3" cy="150.8" r="1.6"/><circle cx="300.7" cy="136.3" r="1.6"/><circle cx="246.4" cy="159.8" r="1.6"/><circle cx="249.3" cy="162.1" r="1.6"/><circle cx="251.8" cy="159.8" r="1.6"/><circle cx="330.2" cy="5.3" r="1.6"/><circle cx="332.7" cy="12.5" r="1.6"/><circle cx="336.0" cy="15.0" r="1.6"/><circle cx="338.5" cy="22.0" r="1.6"/><circle cx="335.7" cy="24.2" r="1.6"/><circle cx="387.3" cy="48.0" r="1.6"/><circle cx="330.0" cy="31.4" r="1.6"/><circle cx="342.2" cy="31.4" r="1.6"/><circle cx="335.7" cy="34.8" r="1.6"/><circle cx="330.0" cy="36.4" r="1.6"/><circle cx="330.7" cy="38.7" r="1.6"/><circle cx="334.8" cy="36.7" r="1.6"/><circle cx="336.1" cy="38.7" r="1.6"/><circle cx="342.2" cy="36.4" r="1.6"/><circle cx="342.8" cy="38.7" r="1.6"/><circle cx="345.8" cy="38.7" r="1.6"/><circle cx="334.4" cy="40.8" r="1.6"/><circle cx="326.5" cy="42.2" r="1.6"/><circle cx="324.7" cy="42.2" r="1.6"/><circle cx="331.9" cy="43.9" r="1.6"/><circle cx="349.4" cy="42.2" r="1.6"/><circle cx="325.7" cy="47.8" r="1.6"/><circle cx="330.0" cy="47.8" r="1.6"/><circle cx="337.8" cy="47.8" r="1.6"/><circle cx="348.2" cy="47.5" r="1.6"/><circle cx="361.3" cy="47.7" r="1.6"/><circle cx="335.7" cy="50.2" r="1.6"/><circle cx="337.3" cy="50.6" r="1.6"/><circle cx="341.1" cy="49.8" r="1.6"/><circle cx="345.7" cy="49.8" r="1.6"/><circle cx="348.6" cy="51.0" r="1.6"/><circle cx="355.2" cy="49.8" r="1.6"/><circle cx="358.2" cy="49.8" r="1.6"/><circle cx="330.2" cy="51.0" r="1.6"/><circle cx="393.2" cy="53.5" r="1.6"/><circle cx="396.3" cy="57.2" r="1.6"/><circle cx="390.5" cy="62.4" r="1.6"/><circle cx="367.8" cy="56.8" r="1.6"/><circle cx="365.7" cy="58.8" r="1.6"/><circle cx="364.4" cy="62.4" r="1.6"/><circle cx="367.2" cy="62.4" r="1.6"/><circle cx="369.2" cy="66.3" r="1.6"/><circle cx="372.3" cy="65.8" r="1.6"/><circle cx="373.0" cy="67.7" r="1.6"/><circle cx="375.7" cy="67.7" r="1.6"/><circle cx="374.0" cy="69.5" r="1.6"/><circle cx="379.0" cy="69.9" r="1.6"/><circle cx="381.1" cy="69.9" r="1.6"/><circle cx="364.8" cy="67.7" r="1.6"/><circle cx="365.7" cy="69.9" r="1.6"/><circle cx="367.8" cy="71.3" r="1.6"/><circle cx="369.4" cy="73.5" r="1.6"/><circle cx="372.8" cy="73.8" r="1.6"/><circle cx="375.7" cy="73.2" r="1.6"/><circle cx="379.4" cy="75.3" r="1.6"/><circle cx="384.8" cy="75.3" r="1.6"/><circle cx="391.1" cy="77.0" r="1.6"/><circle cx="364.8" cy="76.6" r="1.6"/><circle cx="369.8" cy="76.2" r="1.6"/><circle cx="375.7" cy="76.2" r="1.6"/><circle cx="334.0" cy="53.7" r="1.6"/><circle cx="347.3" cy="53.7" r="1.6"/><circle cx="351.9" cy="53.5" r="1.6"/><circle cx="343.6" cy="54.9" r="1.6"/><circle cx="336.3" cy="57.0" r="1.6"/><circle cx="329.8" cy="58.5" r="1.6"/><circle cx="326.1" cy="60.3" r="1.6"/><circle cx="331.5" cy="60.8" r="1.6"/><circle cx="328.6" cy="62.4" r="1.6"/><circle cx="335.7" cy="60.3" r="1.6"/><circle cx="339.8" cy="58.8" r="1.6"/><circle cx="343.2" cy="57.0" r="1.6"/><circle cx="343.3" cy="60.3" r="1.6"/><circle cx="347.3" cy="57.0" r="1.6"/><circle cx="349.0" cy="58.7" r="1.6"/><circle cx="347.8" cy="60.8" r="1.6"/><circle cx="355.7" cy="58.7" r="1.6"/><circle cx="358.2" cy="57.0" r="1.6"/><circle cx="355.2" cy="61.2" r="1.6"/><circle cx="360.7" cy="62.4" r="1.6"/><circle cx="363.2" cy="62.4" r="1.6"/><circle cx="349.8" cy="62.8" r="1.6"/><circle cx="351.5" cy="64.5" r="1.6"/><circle cx="344.8" cy="64.5" r="1.6"/><circle cx="339.8" cy="62.4" r="1.6"/><circle cx="336.5" cy="62.8" r="1.6"/><circle cx="357.8" cy="64.5" r="1.6"/><circle cx="355.7" cy="65.8" r="1.6"/><circle cx="359.0" cy="66.2" r="1.6"/><circle cx="361.5" cy="67.4" r="1.6"/><circle cx="325.7" cy="74.1" r="1.6"/><circle cx="329.0" cy="75.3" r="1.6"/><circle cx="333.2" cy="73.7" r="1.6"/><circle cx="337.3" cy="75.3" r="1.6"/><circle cx="344.0" cy="75.3" r="1.6"/><circle cx="349.8" cy="74.5" r="1.6"/><circle cx="334.4" cy="81.2" r="1.6"/><circle cx="340.2" cy="80.9" r="1.6"/><circle cx="344.0" cy="79.7" r="1.6"/><circle cx="346.1" cy="80.9" r="1.6"/><circle cx="340.7" cy="84.5" r="1.6"/><circle cx="346.1" cy="84.5" r="1.6"/><circle cx="348.2" cy="84.5" r="1.6"/><circle cx="331.9" cy="84.5" r="1.6"/><circle cx="332.3" cy="86.3" r="1.6"/><circle cx="334.0" cy="88.4" r="1.6"/><circle cx="338.6" cy="90.1" r="1.6"/><circle cx="346.1" cy="90.1" r="1.6"/><circle cx="349.4" cy="90.1" r="1.6"/><circle cx="324.8" cy="91.8" r="1.6"/><circle cx="337.3" cy="93.4" r="1.6"/><circle cx="340.2" cy="93.4" r="1.6"/><circle cx="351.5" cy="91.8" r="1.6"/><circle cx="353.6" cy="88.4" r="1.6"/><circle cx="355.7" cy="86.2" r="1.6"/><circle cx="359.0" cy="85.9" r="1.6"/><circle cx="359.8" cy="88.4" r="1.6"/><circle cx="357.8" cy="90.1" r="1.6"/><circle cx="354.4" cy="93.4" r="1.6"/><circle cx="359.8" cy="91.8" r="1.6"/><circle cx="325.2" cy="95.5" r="1.6"/><circle cx="336.5" cy="95.9" r="1.6"/><circle cx="341.1" cy="95.7" r="1.6"/><circle cx="347.3" cy="95.5" r="1.6"/><circle cx="353.6" cy="95.5" r="1.6"/><circle cx="359.8" cy="95.5" r="1.6"/><circle cx="362.3" cy="95.5" r="1.6"/><circle cx="330.7" cy="97.6" r="1.6"/><circle cx="344.0" cy="97.6" r="1.6"/><circle cx="346.9" cy="98.0" r="1.6"/><circle cx="353.2" cy="98.0" r="1.6"/><circle cx="357.8" cy="99.2" r="1.6"/><circle cx="330.7" cy="100.9" r="1.6"/><circle cx="345.7" cy="101.2" r="1.6"/><circle cx="351.5" cy="100.1" r="1.6"/><circle cx="363.2" cy="97.6" r="1.6"/><circle cx="337.8" cy="103.0" r="1.6"/><circle cx="359.0" cy="103.0" r="1.6"/><circle cx="361.9" cy="103.0" r="1.6"/><circle cx="376.5" cy="78.8" r="1.6"/><circle cx="381.1" cy="78.8" r="1.6"/><circle cx="384.8" cy="79.2" r="1.6"/><circle cx="389.0" cy="81.2" r="1.6"/><circle cx="386.5" cy="83.0" r="1.6"/><circle cx="379.0" cy="82.6" r="1.6"/><circle cx="381.9" cy="86.3" r="1.6"/><circle cx="385.2" cy="84.7" r="1.6"/><circle cx="390.7" cy="88.4" r="1.6"/><circle cx="394.8" cy="86.3" r="1.6"/><circle cx="384.8" cy="91.8" r="1.6"/><circle cx="391.5" cy="93.4" r="1.6"/><circle cx="393.2" cy="91.8" r="1.6"/><circle cx="396.1" cy="92.2" r="1.6"/><circle cx="391.1" cy="97.6" r="1.6"/><circle cx="397.3" cy="99.5" r="1.6"/><circle cx="393.2" cy="100.9" r="1.6"/><circle cx="364.4" cy="97.6" r="1.6"/><circle cx="369.0" cy="93.8" r="1.6"/><circle cx="371.5" cy="91.8" r="1.6"/><circle cx="365.7" cy="88.0" r="1.6"/><circle cx="373.2" cy="95.5" r="1.6"/><circle cx="375.7" cy="98.0" r="1.6"/><circle cx="378.2" cy="100.5" r="1.6"/><circle cx="379.4" cy="103.0" r="1.6"/><circle cx="328.2" cy="104.7" r="1.6"/><circle cx="352.3" cy="104.7" r="1.6"/><circle cx="359.4" cy="110.2" r="1.6"/><circle cx="359.4" cy="112.3" r="1.6"/><circle cx="345.7" cy="119.4" r="1.6"/><circle cx="363.6" cy="106.5" r="1.6"/><circle cx="364.8" cy="106.5" r="1.6"/><circle cx="365.2" cy="110.0" r="1.6"/><circle cx="367.8" cy="110.0" r="1.6"/><circle cx="371.3" cy="108.2" r="1.6"/><circle cx="371.9" cy="104.4" r="1.6"/><circle cx="377.3" cy="108.6" r="1.6"/><circle cx="383.6" cy="108.2" r="1.6"/><circle cx="382.3" cy="111.1" r="1.6"/><circle cx="381.1" cy="112.3" r="1.6"/><circle cx="381.5" cy="114.0" r="1.6"/><circle cx="387.3" cy="114.0" r="1.6"/><circle cx="389.8" cy="114.0" r="1.6"/><circle cx="389.0" cy="110.0" r="1.6"/><circle cx="391.9" cy="110.2" r="1.6"/><circle cx="397.3" cy="110.2" r="1.6"/><circle cx="396.5" cy="108.2" r="1.6"/><circle cx="373.2" cy="115.7" r="1.6"/><circle cx="371.5" cy="117.3" r="1.6"/><circle cx="370.2" cy="119.7" r="1.6"/><circle cx="365.7" cy="121.3" r="1.6"/><circle cx="376.5" cy="121.3" r="1.6"/><circle cx="383.0" cy="117.5" r="1.6"/><circle cx="385.5" cy="119.7" r="1.6"/><circle cx="388.2" cy="117.5" r="1.6"/><circle cx="395.2" cy="115.7" r="1.6"/><circle cx="393.6" cy="117.3" r="1.6"/><circle cx="395.7" cy="119.4" r="1.6"/><circle cx="389.0" cy="121.3" r="1.6"/><circle cx="391.1" cy="121.3" r="1.6"/><circle cx="395.2" cy="123.3" r="1.6"/><circle cx="389.0" cy="124.8" r="1.6"/><circle cx="393.2" cy="126.5" r="1.6"/><circle cx="395.2" cy="126.9" r="1.6"/><circle cx="389.4" cy="129.0" r="1.6"/><circle cx="396.1" cy="129.0" r="1.6"/><circle cx="382.3" cy="132.5" r="1.6"/><circle cx="378.2" cy="138.0" r="1.6"/><circle cx="382.3" cy="138.0" r="1.6"/><circle cx="384.0" cy="139.7" r="1.6"/><circle cx="388.2" cy="145.3" r="1.6"/><circle cx="394.8" cy="148.7" r="1.6"/><circle cx="376.5" cy="152.5" r="1.6"/><circle cx="393.7" cy="173.0" r="1.6"/><circle cx="396.8" cy="132.0" r="1.6"/><circle cx="113.2" cy="103.2" r="1.6"/><circle cx="121.1" cy="103.0" r="1.6"/><circle cx="124.0" cy="104.8" r="1.6"/><circle cx="124.4" cy="108.6" r="1.6"/><circle cx="135.7" cy="102.8" r="1.6"/><circle cx="141.1" cy="103.2" r="1.6"/><circle cx="154.6" cy="103.0" r="1.6"/><circle cx="157.1" cy="104.8" r="1.6"/><circle cx="383.8" cy="102.9" r="1.6"/><circle cx="387.3" cy="106.4" r="1.6"/><circle cx="390.8" cy="106.8" r="1.6"/><circle cx="323.8" cy="49.8" r="1.6"/><circle cx="280.7" cy="106.4" r="1.6"/><circle cx="283.5" cy="105.0" r="1.6"/><circle cx="284.0" cy="108.3" r="1.6"/><circle cx="288.8" cy="106.4" r="1.6"/><circle cx="288.3" cy="110.2" r="1.6"/><circle cx="293.0" cy="109.7" r="1.6"/><circle cx="294.5" cy="112.1" r="1.6"/><circle cx="277.8" cy="110.2" r="1.6"/><circle cx="276.4" cy="112.6" r="1.6"/><circle cx="283.0" cy="111.6" r="1.6"/><circle cx="283.5" cy="114.0" r="1.6"/><circle cx="277.3" cy="115.9" r="1.6"/><circle cx="282.6" cy="116.4" r="1.6"/><circle cx="281.1" cy="117.8" r="1.6"/><circle cx="283.0" cy="119.7" r="1.6"/><circle cx="275.9" cy="121.1" r="1.6"/><circle cx="282.1" cy="123.5" r="1.6"/><circle cx="288.3" cy="124.5" r="1.6"/><circle cx="294.5" cy="123.5" r="1.6"/><circle cx="276.4" cy="126.9" r="1.6"/><circle cx="287.3" cy="126.9" r="1.6"/><circle cx="295.4" cy="126.9" r="1.6"/><circle cx="281.6" cy="130.7" r="1.6"/><circle cx="275.9" cy="132.1" r="1.6"/></g><path d="M139.20,228.30 C139.50,228.93 139.30,229.40 140.10,230.20 C140.90,231.00 140.53,230.63 141.60,230.70 C142.67,230.77 142.20,230.37 143.30,230.40 C144.40,230.43 143.93,230.23 144.90,230.80 C145.87,231.37 145.33,230.83 146.20,232.10 C147.07,233.37 146.57,232.70 147.50,234.60 C148.43,236.50 147.87,235.57 149.00,237.80 C150.13,240.03 149.63,239.10 150.90,241.30 C152.17,243.50 151.33,242.17 152.80,244.40 C154.27,246.63 153.60,245.97 155.30,248.00 C157.00,250.03 156.20,249.17 157.90,250.50 C159.60,251.83 158.50,251.17 160.40,252.00 C162.30,252.83 161.47,252.53 163.60,253.00 C165.73,253.47 164.70,253.30 166.80,253.40 C168.90,253.50 167.80,253.63 169.90,253.30 C172.00,252.97 171.17,253.03 173.10,252.40 C175.03,251.77 174.00,252.00 175.70,251.40 C177.40,250.80 176.53,250.83 178.20,250.60 C179.87,250.37 179.00,250.60 180.70,250.70 C182.40,250.80 181.60,251.17 183.30,250.90 C185.00,250.63 184.10,250.53 185.80,249.90 C187.50,249.27 186.70,249.63 188.40,249.00 C190.10,248.37 189.10,249.27 190.90,248.00 C192.70,246.73 191.57,247.07 193.80,245.20 C196.03,243.33 195.07,244.17 197.60,242.40 C200.13,240.63 199.17,241.80 201.40,239.90 C203.63,238.00 202.40,239.23 204.30,236.70 C206.20,234.17 205.20,234.73 207.10,232.30 C209.00,229.87 208.20,230.60 210.00,229.40 C211.80,228.20 210.90,228.50 212.50,228.70 C214.10,228.90 213.40,229.30 214.80,230.00 C216.20,230.70 215.30,230.60 216.70,230.80 C218.10,231.00 217.60,229.90 219.00,230.60 C220.40,231.30 219.77,230.87 220.90,232.90 C222.03,234.93 221.27,234.00 222.40,236.70 C223.53,239.40 222.90,238.47 224.30,241.00 C225.70,243.53 225.03,242.90 226.60,244.30 C228.17,245.70 227.37,245.40 229.00,245.20 C230.63,245.00 229.90,245.27 231.50,243.70 C233.10,242.13 232.40,243.17 233.80,240.50 C235.20,237.83 234.43,239.53 235.70,235.70 C236.97,231.87 236.33,234.07 237.60,229.00 C238.87,223.93 238.23,226.50 239.50,220.50 C240.77,214.50 240.13,216.83 241.40,211.00 C242.67,205.17 241.90,207.13 243.30,203.00 C244.70,198.87 244.20,199.43 245.60,198.60 C247.00,197.77 246.23,197.33 247.50,200.50 C248.77,203.67 248.37,203.47 249.40,208.10 C250.43,212.73 249.47,208.57 250.60,214.40 C251.73,220.23 251.33,219.30 252.80,225.60 C254.27,231.90 253.53,229.77 255.00,233.30 C256.47,236.83 255.73,235.97 257.20,236.20 C258.67,236.43 257.90,237.17 259.40,234.00 C260.90,230.83 260.20,233.23 261.70,226.70 C263.20,220.17 262.43,224.40 263.90,214.40 C265.37,204.40 264.77,206.30 266.10,196.70 C267.43,187.10 266.80,190.93 267.90,185.60 C269.00,180.27 268.30,181.30 269.40,180.70 C270.50,180.10 269.87,179.23 271.20,183.80 C272.53,188.37 271.90,186.40 273.40,194.40 C274.90,202.40 274.20,199.80 275.70,207.80 C277.20,215.80 276.80,214.13 277.90,218.40 C279.00,222.67 277.97,220.80 279.00,220.60 C280.03,220.40 279.73,223.57 281.00,217.80 C282.27,212.03 281.60,214.80 282.80,203.30 C284.00,191.80 283.63,194.40 284.60,183.30 C285.57,172.20 285.00,184.43 285.70,170.00 C286.40,155.57 285.63,153.77 286.70,140.00 C287.77,126.23 287.43,128.70 288.90,128.70 C290.37,128.70 289.97,126.23 291.10,140.00 C292.23,153.77 291.00,150.00 292.30,170.00 C293.60,190.00 293.23,184.27 295.00,200.00 C296.77,215.73 295.93,217.20 297.60,217.20 C299.27,217.20 298.60,215.73 300.00,200.00 C301.40,184.27 300.93,191.67 301.80,170.00 C302.67,148.33 301.77,152.77 302.60,135.00 C303.43,117.23 303.10,116.70 304.30,116.70 C305.50,116.70 305.13,117.23 306.20,135.00 C307.27,152.77 306.40,152.33 307.50,170.00 C308.60,187.67 308.33,180.27 309.50,188.00 C310.67,195.73 309.97,193.20 311.00,193.20 C312.03,193.20 311.53,195.73 312.60,188.00 C313.67,180.27 313.23,186.67 314.20,170.00 C315.17,153.33 314.57,152.40 315.50,138.00 C316.43,123.60 315.90,126.80 317.00,126.80 C318.10,126.80 317.50,123.60 318.80,138.00 C320.10,152.40 319.33,147.67 320.90,170.00 C322.47,192.33 321.80,187.87 323.50,205.00 C325.20,222.13 324.37,221.40 326.00,221.40 C327.63,221.40 326.93,222.13 328.40,205.00 C329.87,187.87 329.43,195.00 330.40,170.00 C331.37,145.00 330.37,149.23 331.30,130.00 C332.23,110.77 331.90,112.30 333.20,112.30 C334.50,112.30 334.20,114.10 335.20,130.00 C336.20,145.90 335.43,146.47 336.20,160.00 C336.97,173.53 336.63,170.60 337.50,170.60 C338.37,170.60 337.83,172.87 338.80,160.00 C339.77,147.13 339.27,144.47 340.40,132.00 C341.53,119.53 341.03,121.60 342.20,122.60 C343.37,123.60 343.07,122.43 343.90,135.00 C344.73,147.57 343.87,146.37 344.70,160.30 C345.53,174.23 345.37,166.50 346.40,176.80 C347.43,187.10 346.97,183.30 347.80,191.20 C348.63,199.10 348.20,196.70 348.90,200.50 C349.60,204.30 349.57,201.90 349.90,202.60" fill="none" stroke="#000" stroke-width="1.9" stroke-linejoin="round" stroke-linecap="round"/><path d="M273.6,105.1 L275.6,103.2 L277.6,101.3 L279.6,99.5 L281.6,97.6 L283.6,95.8 L285.6,93.9 L287.6,92.1 L289.6,90.3 L291.6,88.6 L293.6,86.8 L295.6,85.2 L297.6,83.6 L299.6,82.0 L301.6,80.5 L303.6,79.0 L305.6,77.6 L307.6,76.3 L309.6,75.1 L311.6,74.0 L313.6,72.9 L315.6,72.0 L317.6,71.1 L319.6,70.3 L321.6,69.7 L323.6,69.1 L325.6,68.6 L327.6,68.3 L329.6,68.0 L331.6,67.9 L333.6,67.9 L335.6,68.0 L337.6,68.2 L339.6,68.5 L341.6,68.9 L343.6,69.4 L345.6,70.1 L347.6,70.8 L349.6,71.6 L351.6,72.5 L353.6,73.6 L355.6,74.7 L357.6,75.9 L359.6,77.2 L361.6,78.5 L363.6,79.9 L365.6,81.4 L367.6,83.0 L369.6,84.6 L371.6,86.2 L373.6,87.9 L375.6,89.7 L377.6,91.5 L379.6,93.2 L381.6,95.1 L383.6,96.9 L385.6,98.8 L387.6,100.7 L389.6,102.5 L391.6,104.4 L392.6,105.3" fill="none" stroke="#000" stroke-width="6" stroke-linejoin="round" stroke-linecap="round"/><rect x="54" y="9" width="201.4" height="50.6" fill="#fff" stroke="#b4b4b4" stroke-width="1"/><line x1="59" y1="17.6" x2="73.9" y2="17.6" stroke="#000" stroke-width="2.1"/><circle cx="66.4" cy="34.4" r="1.6" fill="#000"/><circle cx="66.4" cy="51.5" r="3.05" fill="#000"/><g font-family="Liberation Sans, sans-serif" font-size="13" fill="#000"><text x="74.5" y="21.5">Otolith slice image</text><text x="74.1" y="38.9" textLength="176.2" lengthAdjust="spacingAndGlyphs">Relative reaction strength of IP</text><text x="74.1" y="55.5" textLength="142.2" lengthAdjust="spacingAndGlyphs">Fitting curve for IP image</text></g><g fill="#000"><rect x="49.2" y="4.3" width="2.5" height="273.3"/><rect x="427.6" y="4.3" width="2.5" height="273.3"/><rect x="49.2" y="272.8" width="380.9" height="2.2"/><rect x="46" y="272.80" width="4" height="2.2"/><rect x="429" y="272.80" width="3.7" height="2.2"/><rect x="46" y="219.12" width="4" height="2.2"/><rect x="429" y="219.12" width="3.7" height="2.2"/><rect x="46" y="165.44" width="4" height="2.2"/><rect x="429" y="165.44" width="3.7" height="2.2"/><rect x="46" y="111.76" width="4" height="2.2"/><rect x="429" y="111.76" width="3.7" height="2.2"/><rect x="46" y="58.08" width="4" height="2.2"/><rect x="429" y="58.08" width="3.7" height="2.2"/><rect x="46" y="4.40" width="4" height="2.2"/><rect x="429" y="4.40" width="3.7" height="2.2"/><rect x="49.45" y="274" width="2" height="3.6"/><rect x="96.73" y="274" width="2" height="3.6"/><rect x="144.01" y="274" width="2" height="3.6"/><rect x="191.29" y="274" width="2" height="3.6"/><rect x="238.57" y="274" width="2" height="3.6"/><rect x="285.85" y="274" width="2" height="3.6"/><rect x="333.13" y="274" width="2" height="3.6"/><rect x="380.41" y="274" width="2" height="3.6"/><rect x="427.69" y="274" width="2" height="3.6"/></g><g font-family="Liberation Sans, sans-serif" font-size="13.9" fill="#000"><text transform="translate(42.9 278.80) scale(0.93 1)" text-anchor="end">0</text><text transform="translate(437.0 278.80) scale(0.93 1)">0.0</text><text transform="translate(42.9 225.12) scale(0.93 1)" text-anchor="end">50</text><text transform="translate(437.0 225.12) scale(0.93 1)">0.2</text><text transform="translate(42.9 171.44) scale(0.93 1)" text-anchor="end">100</text><text transform="translate(437.0 171.44) scale(0.93 1)">0.4</text><text transform="translate(42.9 117.76) scale(0.93 1)" text-anchor="end">150</text><text transform="translate(437.0 117.76) scale(0.93 1)">0.6</text><text transform="translate(42.9 64.08) scale(0.93 1)" text-anchor="end">200</text><text transform="translate(437.0 64.08) scale(0.93 1)">0.8</text><text transform="translate(42.9 10.40) scale(0.93 1)" text-anchor="end">250</text><text transform="translate(437.0 10.40) scale(0.93 1)">1.0</text><text transform="translate(48.65 293) scale(0.93 1)" text-anchor="middle">-1.2</text><text transform="translate(95.93 293) scale(0.93 1)" text-anchor="middle">-1.0</text><text transform="translate(143.21 293) scale(0.93 1)" text-anchor="middle">-0.8</text><text transform="translate(190.49 293) scale(0.93 1)" text-anchor="middle">-0.6</text><text transform="translate(237.77 293) scale(0.93 1)" text-anchor="middle">-0.4</text><text transform="translate(285.05 293) scale(0.93 1)" text-anchor="middle">-0.2</text><text transform="translate(332.33 293) scale(0.93 1)" text-anchor="middle">0.0</text><text transform="translate(379.61 293) scale(0.93 1)" text-anchor="middle">0.2</text><text transform="translate(426.89 293) scale(0.93 1)" text-anchor="middle">0.4</text></g><text x="0" y="0" font-family="Liberation Sans, sans-serif" font-weight="bold" font-size="13" transform="translate(52.5 311.4) scale(0.937 1)">Vertical distance from outer second peak of transparent zone (mm)</text><text x="0" y="0" font-family="Liberation Sans, sans-serif" font-weight="bold" font-size="15" text-anchor="middle" transform="translate(12 137) rotate(-90)">Grey level of the otolith slice image</text><text x="0" y="0" font-family="Liberation Sans, sans-serif" font-weight="bold" font-size="14.6" text-anchor="middle" transform="translate(475.7 139.4) rotate(-90)">Relative reaction strength of IP pixel</text>
</svg>
</body></html>
